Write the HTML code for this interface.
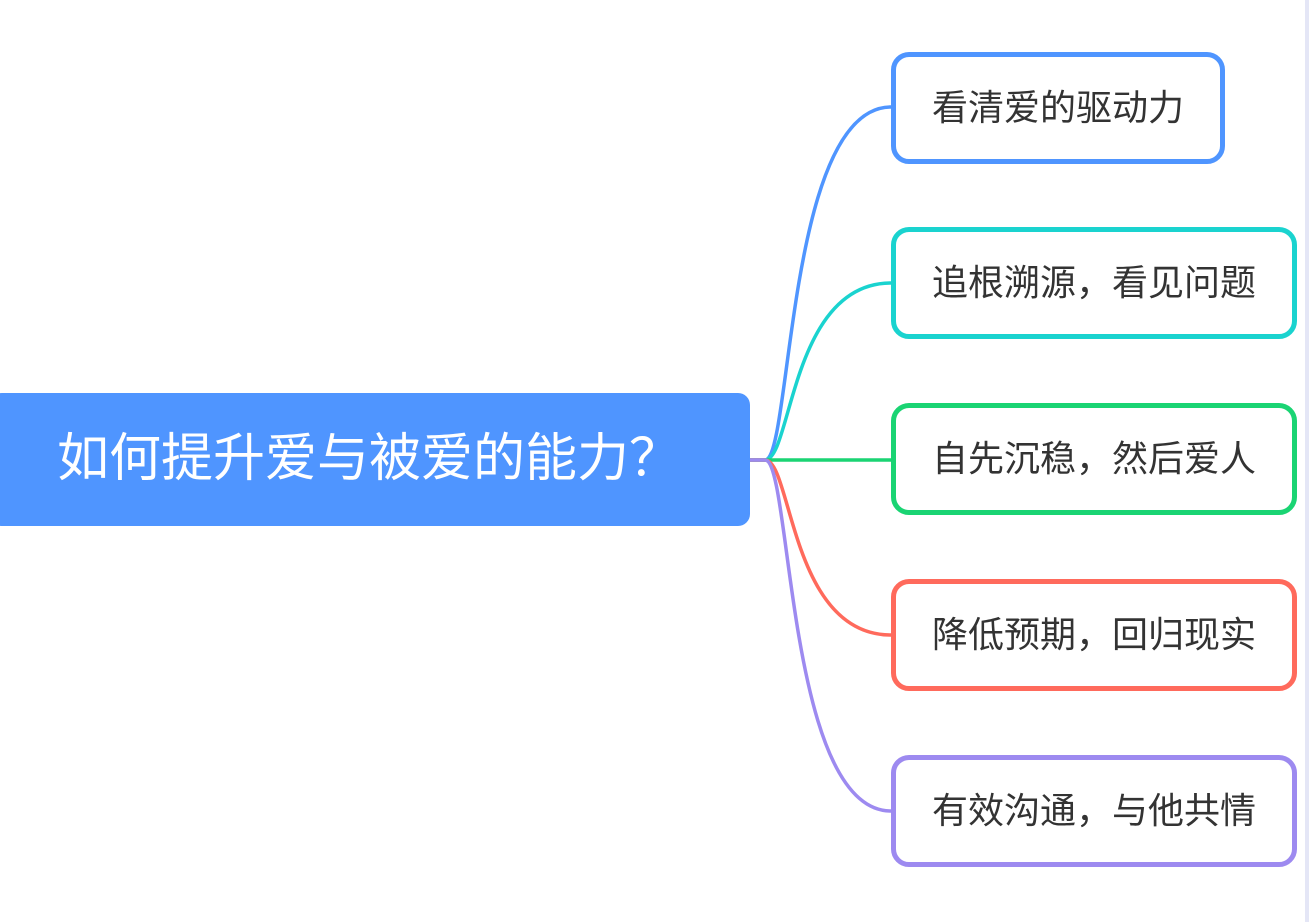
<!DOCTYPE html>
<html><head><meta charset="utf-8"><style>
html,body{margin:0;padding:0;background:#fff;}
body{width:1309px;height:922px;position:relative;overflow:hidden;font-family:"Liberation Sans","Noto Sans CJK SC",sans-serif;}
.root{position:absolute;left:-10px;top:393px;width:760px;height:133px;background:#4f95ff;border-radius:12px;color:#fff;font-size:52px;line-height:133px;box-sizing:border-box;padding-left:67px;}
.n{position:absolute;left:891px;height:112px;border:5px solid;border-radius:18px;box-sizing:border-box;color:#333;font-size:36px;line-height:102px;padding-left:36px;background:#fff;}
.edge{position:absolute;left:1305px;top:0;width:4px;height:922px;background:#e4e6f6;}
</style></head><body>
<svg width="1309" height="922" style="position:absolute;left:0;top:0">
<g fill="none" stroke-width="3.5">
<path d="M750 460 H765 C792 460 786 107 891 107" stroke="#4f95ff"/>
<path d="M750 460 H765 C792 460 790 283 891 283" stroke="#1ad3cf"/>
<path d="M750 460 H891" stroke="#1ad473"/>
<path d="M750 460 H765 C792 460 790 635 891 635" stroke="#ff6a5c"/>
<path d="M750 460 H765 C792 460 786 811 891 811" stroke="#9d8af0"/>
</g></svg>
<div class="root">如何提升爱与被爱的能力？</div>
<div class="n" style="top:52px;width:334px;border-color:#4f95ff">看清爱的驱动力</div>
<div class="n" style="top:227px;width:406px;border-color:#1ad3cf">追根溯源，看见问题</div>
<div class="n" style="top:403px;width:406px;border-color:#1ad473">自先沉稳，然后爱人</div>
<div class="n" style="top:579px;width:406px;border-color:#ff6a5c">降低预期，回归现实</div>
<div class="n" style="top:755px;width:406px;border-color:#9d8af0">有效沟通，与他共情</div>
<div class="edge"></div>
</body></html>
